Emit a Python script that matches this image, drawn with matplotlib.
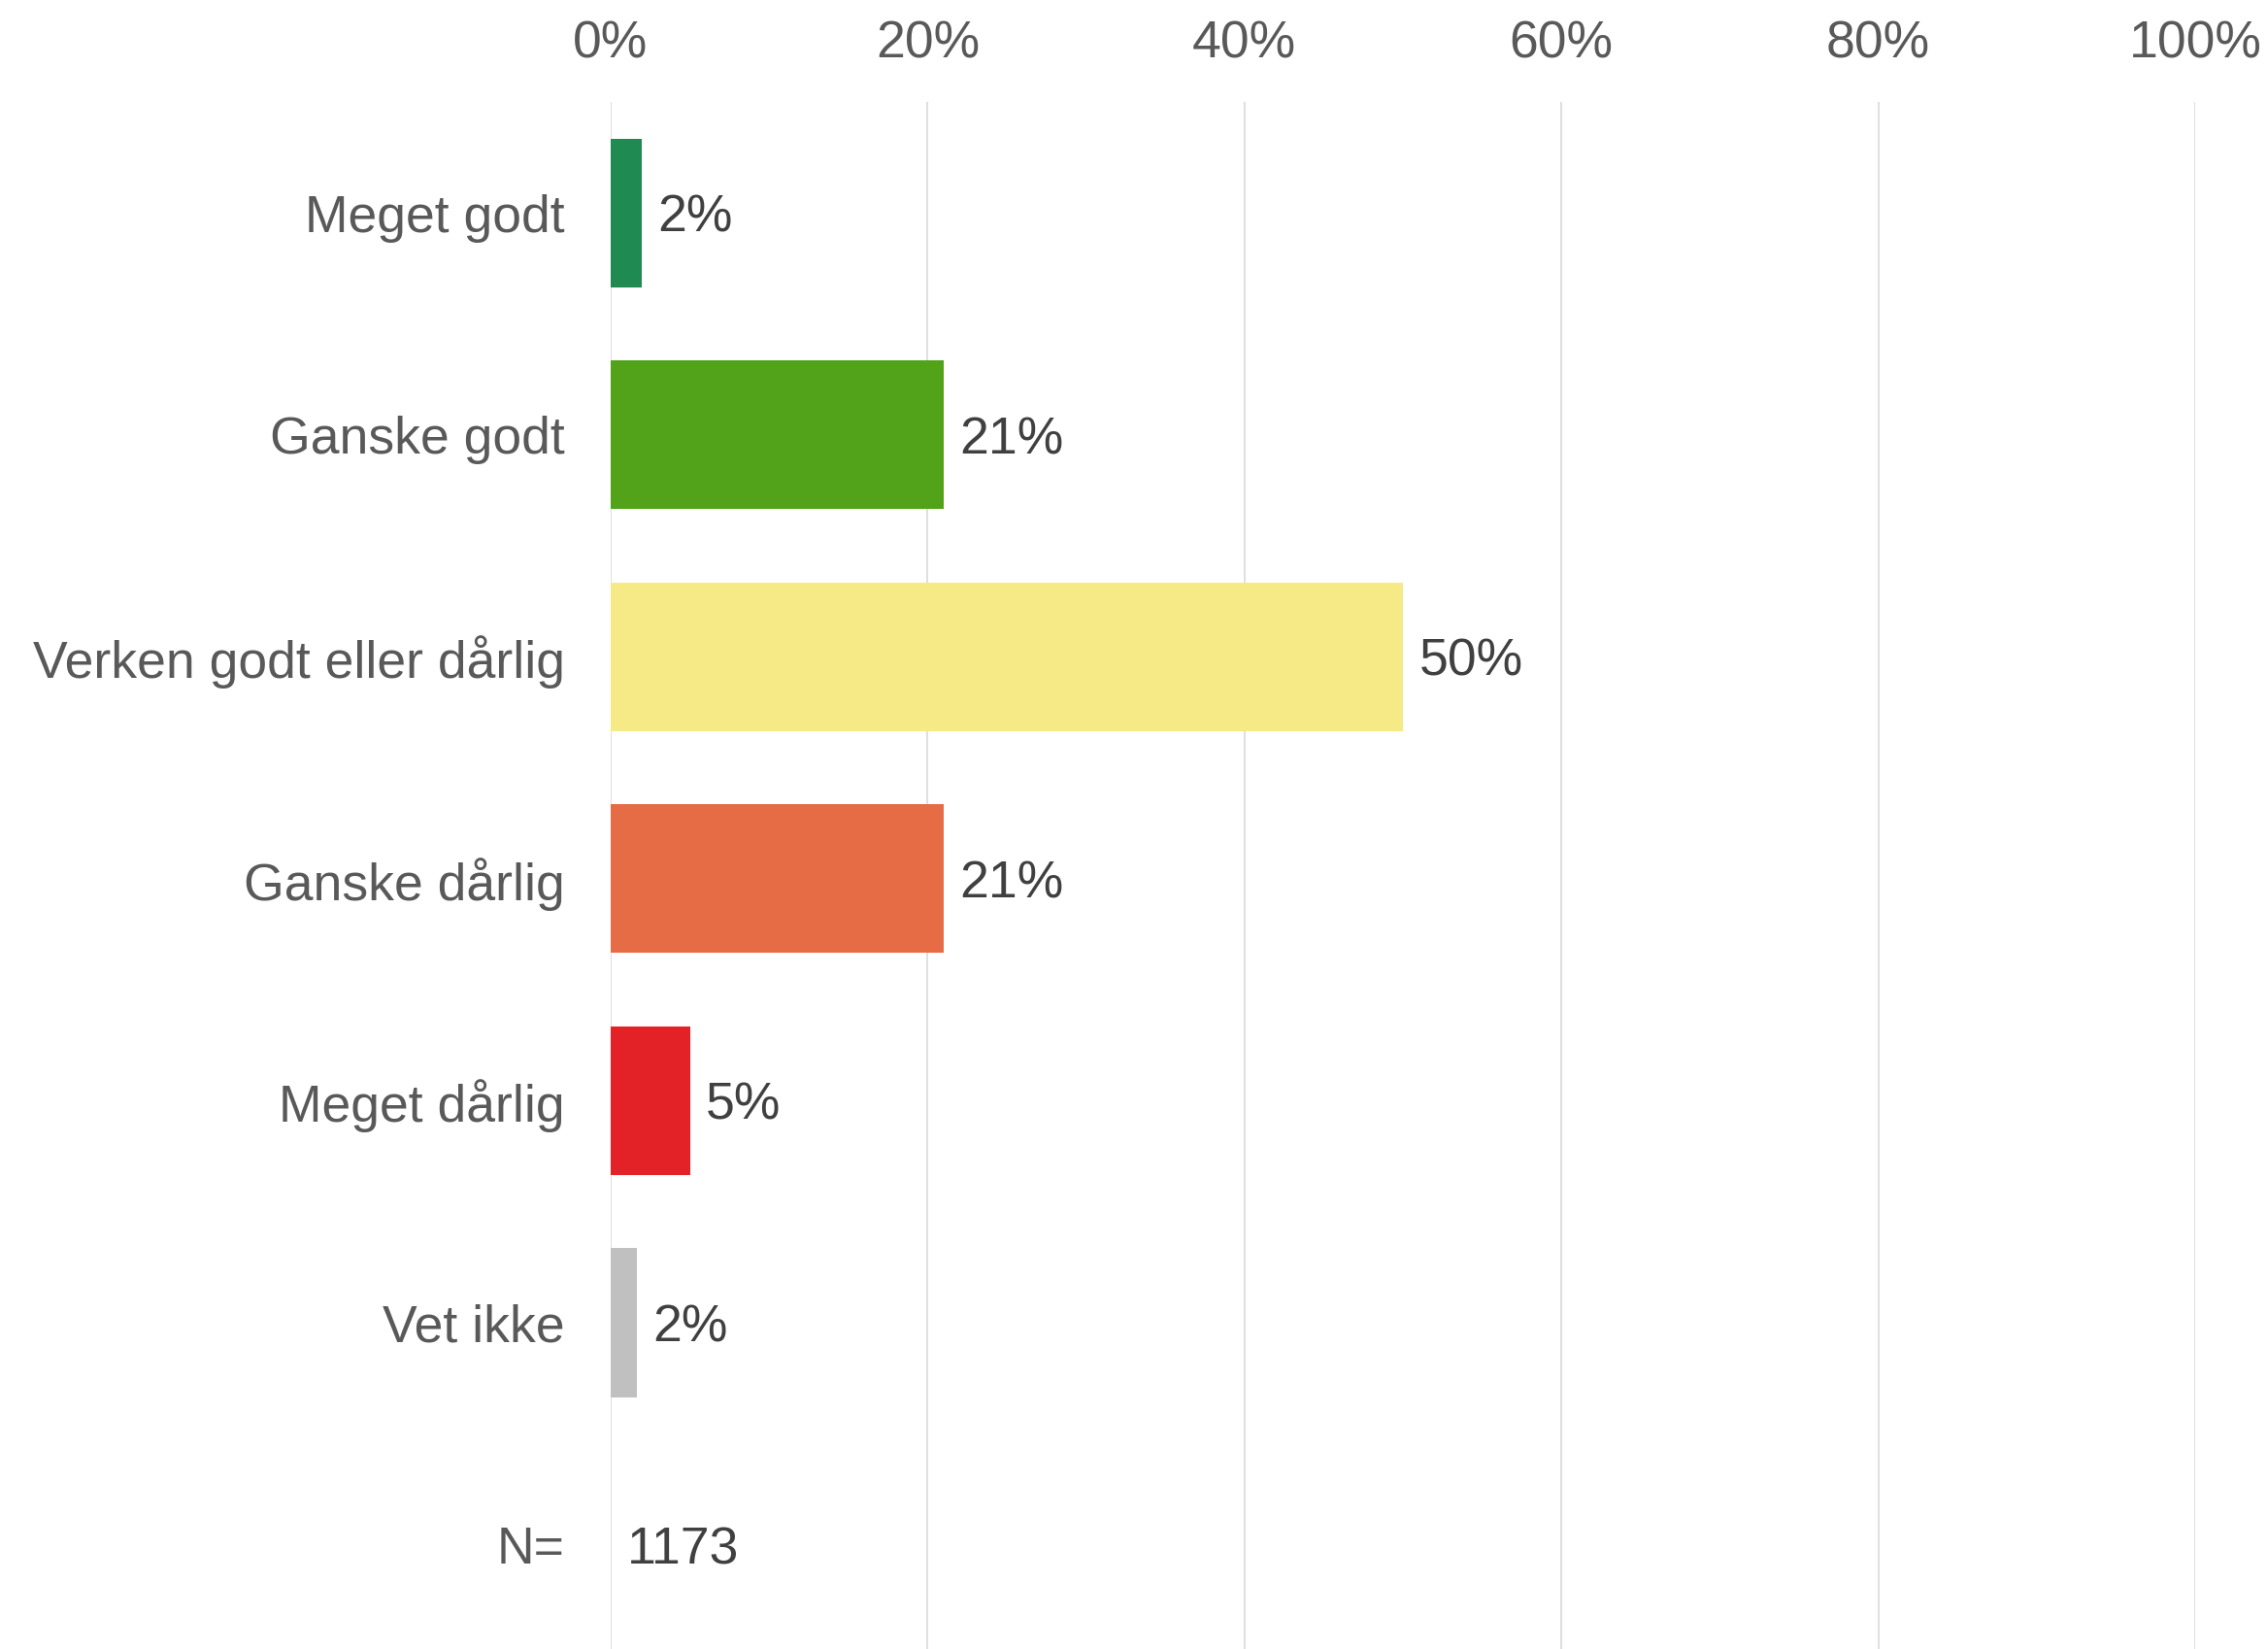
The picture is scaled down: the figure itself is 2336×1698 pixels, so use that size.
import matplotlib
matplotlib.use("Agg")
import matplotlib.pyplot as plt
from matplotlib.ticker import FuncFormatter

plt.rcParams["font.family"] = ["Liberation Sans", "DejaVu Sans"]

categories = ["Meget godt", "Ganske godt", "Verken godt eller dårlig",
              "Ganske dårlig", "Meget dårlig", "Vet ikke"]
values = [1.96, 21.0, 50.0, 21.0, 5.0, 1.65]
colors = ["#1F8A52", "#52A31A", "#F5EA85", "#E66C45", "#E32227", "#C0C0C0"]
n_label = "N="
n_total = 1173

fig = plt.figure(figsize=(23.36, 16.98), dpi=100)
ax = fig.add_axes([629 / 2336, 0.0, (2261 - 629) / 2336, 1 - 105 / 1698])

rows = list(range(len(categories)))
ax.barh(rows, values, height=0.67, color=colors, zorder=3)

for y, v in zip(rows, values):
    ax.annotate(f"{round(v):d}%", xy=(v, y), xytext=(12, 0),
                textcoords="offset points", va="center_baseline", ha="left",
                fontsize=38.5, color="#404040")
ax.annotate(str(n_total), xy=(0, len(categories)), xytext=(12, 0),
            textcoords="offset points", va="center_baseline", ha="left",
            fontsize=38.5, color="#404040")

ax.set_xlim(0, 100)
ax.set_ylim(6.47, -0.5)
ax.set_xticks(range(0, 101, 20))
ax.xaxis.set_major_formatter(FuncFormatter(lambda x, _: f"{x:.0f}%"))
ax.xaxis.tick_top()
ax.set_yticks(rows + [len(categories)])
ax.set_yticklabels(categories + [n_label])
ax.tick_params(axis="x", length=0, pad=25, labelsize=38.5, labelcolor="#595959")
ax.tick_params(axis="y", length=0, pad=34, labelsize=38.5, labelcolor="#595959")

ax.grid(axis="x", color="#D9D9D9", linewidth=1.2, zorder=0)
ax.grid(axis="y", visible=False)
for s in ax.spines.values():
    s.set_visible(False)

fig.savefig("out.png", dpi=100, facecolor="white")
